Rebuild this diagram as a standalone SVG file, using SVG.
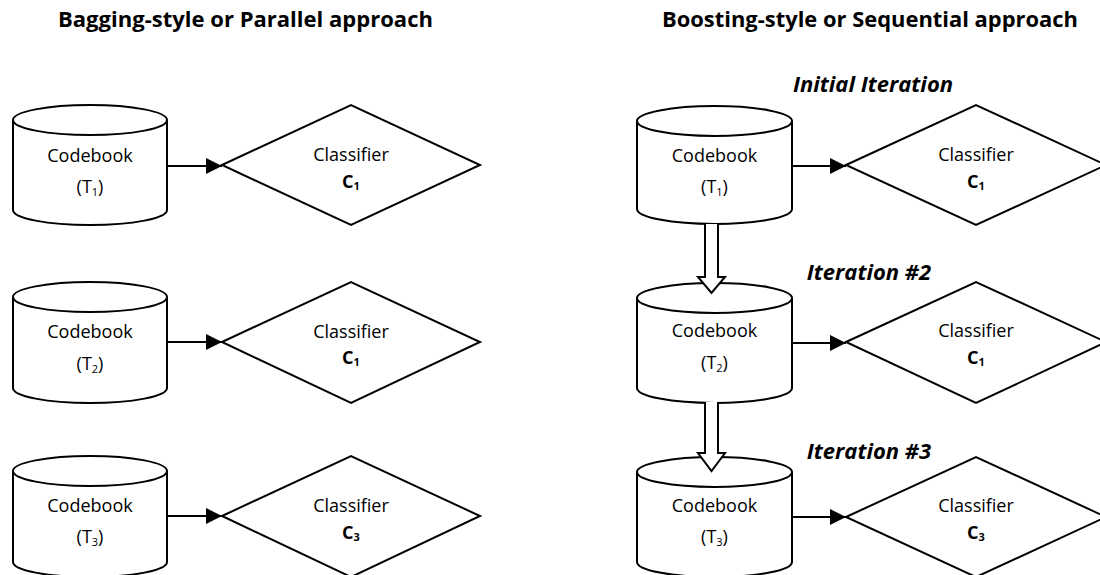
<svg xmlns="http://www.w3.org/2000/svg" width="1100" height="575" viewBox="0 0 1100 575">
<style>
.shape{fill:#fff;stroke:#000;stroke-width:2}
.lbl{font-family:"Open Sans","Noto Sans",sans-serif;font-size:18px;fill:#000;text-anchor:middle}
.b{font-weight:bold}
.title{font-family:"Open Sans","Noto Sans",sans-serif;font-size:21px;font-weight:bold;fill:#000}
.iter{font-family:"Open Sans","Noto Sans",sans-serif;font-size:22px;font-weight:bold;font-style:italic;fill:#000;text-anchor:middle}
.sub{font-size:11px}
.conn{stroke:#000;stroke-width:2;fill:none}
.hollow{fill:#fff;stroke:#000;stroke-width:2;stroke-linejoin:miter}
</style>
<defs>
<marker id="ah" viewBox="0 0 16 16" refX="16" refY="8" markerWidth="16" markerHeight="16" markerUnits="userSpaceOnUse" orient="auto">
<path d="M0,0 L16,8 L0,16 Z" fill="#000"/>
</marker>
</defs>
<rect width="1100" height="575" fill="#fff"/>

<g id="titles">
<text class="title" x="58" y="27" textLength="375" lengthAdjust="spacingAndGlyphs">Bagging-style or Parallel approach</text>
<text class="title" x="662" y="27" textLength="416" lengthAdjust="spacingAndGlyphs">Boosting-style or Sequential approach</text>
</g>

<g id="iteration-labels">
<text class="iter" x="873" y="92">Initial Iteration</text>
<text class="iter" x="869" y="280">Iteration #2</text>
<text class="iter" x="869" y="459">Iteration #3</text>
</g>

<!-- Left column -->
<g id="bag-codebook-1">
<path class="shape" d="M13,120 L13,210 A77,15 0 0 0 167,210 L167,120"/>
<ellipse class="shape" cx="90" cy="120" rx="77" ry="15"/>
<text class="lbl" x="90" y="162">Codebook</text>
<text class="lbl" x="90" y="193">(T<tspan class="sub" dy="3">1</tspan><tspan dy="-3">)</tspan></text>
</g>
<g id="bag-classifier-1">
<polygon class="shape" points="222,165 351,105 480,165 351,225"/>
<text class="lbl" x="351" y="161">Classifier</text>
<text class="lbl b" x="351" y="188">C<tspan class="sub" dy="2">1</tspan></text>
</g>

<g id="bag-codebook-2">
<path class="shape" d="M13,297 L13,388 A77,15 0 0 0 167,388 L167,297"/>
<ellipse class="shape" cx="90" cy="297" rx="77" ry="15"/>
<text class="lbl" x="90" y="338">Codebook</text>
<text class="lbl" x="90" y="370">(T<tspan class="sub" dy="3">2</tspan><tspan dy="-3">)</tspan></text>
</g>
<g id="bag-classifier-2">
<polygon class="shape" points="222,342 351,282 480,342 351,403"/>
<text class="lbl" x="351" y="338">Classifier</text>
<text class="lbl b" x="351" y="364">C<tspan class="sub" dy="2">1</tspan></text>
</g>

<g id="bag-codebook-3">
<path class="shape" d="M13,471 L13,562 A77,15 0 0 0 167,562 L167,471"/>
<ellipse class="shape" cx="90" cy="471" rx="77" ry="15"/>
<text class="lbl" x="90" y="512">Codebook</text>
<text class="lbl" x="90" y="543">(T<tspan class="sub" dy="3">3</tspan><tspan dy="-3">)</tspan></text>
</g>
<g id="bag-classifier-3">
<polygon class="shape" points="222,516 351,456 480,516 351,577"/>
<text class="lbl" x="351" y="512">Classifier</text>
<text class="lbl b" x="351" y="539">C<tspan class="sub" dy="2">3</tspan></text>
</g>

<!-- Right column -->
<g id="boost-codebook-1">
<path class="shape" d="M637,121 L637,209 A77.5,15 0 0 0 792,209 L792,121"/>
<ellipse class="shape" cx="714.5" cy="121" rx="77.5" ry="15"/>
<text class="lbl" x="714.5" y="162">Codebook</text>
<text class="lbl" x="714.5" y="193">(T<tspan class="sub" dy="3">1</tspan><tspan dy="-3">)</tspan></text>
</g>
<g id="boost-classifier-1">
<polygon class="shape" points="846,165 976,105 1106,165 976,225"/>
<text class="lbl" x="976" y="161">Classifier</text>
<text class="lbl b" x="976" y="188">C<tspan class="sub" dy="2">1</tspan></text>
</g>

<g id="boost-codebook-2">
<path class="shape" d="M637,298 L637,388 A77.5,15 0 0 0 792,388 L792,298"/>
<ellipse class="shape" cx="714.5" cy="298" rx="77.5" ry="15"/>
<text class="lbl" x="714.5" y="337">Codebook</text>
<text class="lbl" x="714.5" y="369">(T<tspan class="sub" dy="3">2</tspan><tspan dy="-3">)</tspan></text>
</g>
<g id="boost-classifier-2">
<polygon class="shape" points="846,342 976,282 1106,342 976,403"/>
<text class="lbl" x="976" y="337">Classifier</text>
<text class="lbl b" x="976" y="364">C<tspan class="sub" dy="2">1</tspan></text>
</g>

<g id="boost-codebook-3">
<path class="shape" d="M637,472 L637,562 A77.5,15 0 0 0 792,562 L792,472"/>
<ellipse class="shape" cx="714.5" cy="472" rx="77.5" ry="15"/>
<text class="lbl" x="714.5" y="512">Codebook</text>
<text class="lbl" x="714.5" y="543">(T<tspan class="sub" dy="3">3</tspan><tspan dy="-3">)</tspan></text>
</g>
<g id="boost-classifier-3">
<polygon class="shape" points="846,517 976,457 1106,517 976,577"/>
<text class="lbl" x="976" y="512">Classifier</text>
<text class="lbl b" x="976" y="539">C<tspan class="sub" dy="2">3</tspan></text>
</g>

<g id="connectors">
<line class="conn" x1="167" y1="166" x2="222" y2="166" marker-end="url(#ah)"/>
<line class="conn" x1="167" y1="342" x2="222" y2="342" marker-end="url(#ah)"/>
<line class="conn" x1="167" y1="516" x2="222" y2="516" marker-end="url(#ah)"/>
<line class="conn" x1="792" y1="166" x2="846" y2="166" marker-end="url(#ah)"/>
<line class="conn" x1="792" y1="343" x2="846" y2="343" marker-end="url(#ah)"/>
<line class="conn" x1="792" y1="517" x2="846" y2="517" marker-end="url(#ah)"/>
<path class="hollow" d="M705,224 L705,277 L698,277 L711.5,293 L725,277 L718,277 L718,224"/>
<path class="hollow" d="M705,402 L705,453 L698,453 L711.5,471 L725,453 L718,453 L718,402"/>
</g>
</svg>
